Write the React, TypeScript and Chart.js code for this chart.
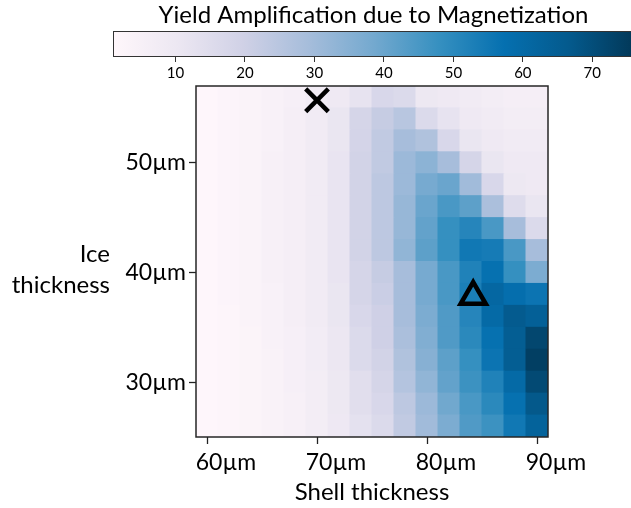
import React, { useEffect, useRef } from "react";
import { Chart, registerables } from "chart.js";

Chart.register(...registerables);

// Shell thickness (µm) – heatmap columns
const shellThickness = [60, 62, 64, 66, 68, 70, 72, 74, 76, 78, 80, 82, 84, 86, 88, 90];
// Ice thickness (µm) – heatmap rows, ascending
const iceThickness = [26, 28, 30, 32, 34, 36, 38, 40, 42, 44, 46, 48, 50, 52, 54, 56];
// Yield amplification; one row per ice thickness (26µm first), one value per shell thickness
const amplification = [
  [1.5, 2, 3, 4, 5, 7, 9.5, 13, 16, 23, 30, 37, 44, 47, 55, 63],
  [1.5, 2, 3, 4, 5, 7, 10, 14, 17, 24, 31, 39, 45, 50, 57, 67],
  [1.5, 2, 3, 4, 5.5, 7, 10, 14, 18, 26, 33, 41, 47, 52, 60, 71],
  [1.5, 2, 3, 4, 5.5, 7.5, 10.5, 16, 19, 27, 35, 42, 48, 56, 65, 74],
  [1.5, 2, 3, 4.5, 5.5, 7.5, 10.5, 16, 20, 28, 36, 44, 50, 57, 65, 72],
  [1.5, 2, 3.5, 4.5, 6, 8, 11, 17, 20, 29, 37, 44, 51, 60, 66, 64],
  [1.5, 2.5, 3.5, 4.5, 6, 8, 11, 18, 21, 29, 38, 45, 53, 61, 58, 56],
  [1.5, 2.5, 3.5, 5, 6, 8, 11.5, 18, 22, 29, 38, 45, 52, 57, 48, 37],
  [1.5, 2.5, 3.5, 5, 6, 8, 11.5, 19, 24, 33, 42, 48, 55, 54, 45, 29],
  [1.5, 2.5, 3.5, 5, 6, 8, 11.5, 19, 24, 32, 41, 48, 51, 45, 29, 16],
  [1.5, 2.5, 3.5, 5, 6, 8, 11.5, 19, 24, 32, 40, 45, 42, 28, 15, 11],
  [1.5, 2.5, 3.5, 5, 6, 8, 11.5, 19, 24, 31, 38, 40, 30, 17, 10, 9],
  [1.5, 2.5, 3.5, 5, 6, 8, 11.5, 19, 23, 31, 34, 29, 18, 11, 9, 9],
  [1.5, 2.5, 3.5, 4.5, 6, 8, 11, 18.5, 23, 29, 27, 17, 11, 9, 8, 8],
  [1.5, 2.5, 3.5, 4.5, 6, 8, 11, 18, 22, 25, 16, 12, 9, 8, 7, 7],
  [1.5, 2.5, 3.5, 4.5, 5.5, 7.5, 9, 12, 17, 16, 10, 9, 8, 7, 6, 6],
];
const crossMarker = [{ x: 70, y: 55.7 }];
const triangleMarker = [{ x: 84.2, y: 37.8 }];
const xTickValues = [60, 70, 80, 90];
const yTickValues = [30, 40, 50];
const colorbarTickValues = [10, 20, 30, 40, 50, 60, 70];
const colorMin = 1;
const colorMax = 76;
const PUBU = ["#fff7fb", "#ece7f2", "#d0d1e6", "#a6bddb", "#74a9cf", "#3690c0", "#0570b0", "#045a8d", "#023858"];

const FONT = "Lato";

function hexToRgb(h: string) {
  const n = parseInt(h.slice(1), 16);
  return [(n >> 16) & 255, (n >> 8) & 255, n & 255];
}

function colorFor(v: number) {
  let t = (v - colorMin) / (colorMax - colorMin);
  t = Math.max(0, Math.min(1, t));
  const pos = t * (PUBU.length - 1);
  const i = Math.min(PUBU.length - 2, Math.floor(pos));
  const f = pos - i;
  const a = hexToRgb(PUBU[i]);
  const b = hexToRgb(PUBU[i + 1]);
  const c = a.map((x, k) => Math.round(x + (b[k] - x) * f));
  return `rgb(${c[0]},${c[1]},${c[2]})`;
}

const framePlugin = {
  id: "frame",
  afterDraw(chart: any) {
    const { ctx, chartArea: a } = chart;
    ctx.save();
    ctx.strokeStyle = "#262626";
    ctx.lineWidth = 1.5;
    ctx.strokeRect(a.left, a.top, a.right - a.left, a.bottom - a.top);
    ctx.restore();
  },
};

const iceLabelPlugin = {
  id: "iceLabel",
  afterDraw(chart: any) {
    const { ctx, chartArea: a } = chart;
    const ys = chart.scales.y;
    const mid = ys.getPixelForValue(40);
    ctx.save();
    ctx.fillStyle = "#000";
    ctx.font = `24px ${FONT}`;
    ctx.textAlign = "right";
    ctx.textBaseline = "alphabetic";
    ctx.fillText("Ice", a.left - 86, mid - 10);
    ctx.fillText("thickness", a.left - 86, mid + 21);
    ctx.restore();
  },
};

const gradientPlugin = {
  id: "gradientBar",
  afterDraw(chart: any) {
    const { ctx, chartArea: a } = chart;
    const xs = chart.scales.x;
    const x0 = xs.getPixelForValue(colorMin);
    const x1 = xs.getPixelForValue(colorMax);
    const g = ctx.createLinearGradient(x0, 0, x1, 0);
    PUBU.forEach((c, i) => g.addColorStop(i / (PUBU.length - 1), c));
    ctx.save();
    ctx.fillStyle = g;
    ctx.fillRect(a.left, a.top, a.right - a.left, a.bottom - a.top);
    ctx.strokeStyle = "#333";
    ctx.lineWidth = 1;
    ctx.strokeRect(a.left + 0.5, a.top + 0.5, a.right - a.left - 1, a.bottom - a.top - 1);
    ctx.restore();
  },
};

export default function App() {
  const mainRef = useRef<HTMLCanvasElement>(null);
  const barRef = useRef<HTMLCanvasElement>(null);

  useEffect(() => {
    document.body.style.margin = "0";

    const cellDatasets: any[] = iceThickness.map((ice, r) => ({
      type: "bar",
      data: shellThickness.map((s) => ({ x: s, y: [ice - 1, ice + 1] })),
      backgroundColor: amplification[r].map(colorFor),
      borderWidth: 0,
      barPercentage: 1,
      categoryPercentage: 1,
      grouped: false,
      inflateAmount: 0.5,
      order: 2,
    }));

    const markerDatasets: any[] = [
      {
        type: "line",
        data: crossMarker,
        showLine: false,
        pointStyle: "crossRot",
        pointRadius: 16,
        pointBorderWidth: 4.5,
        pointBorderColor: "#000",
        pointBackgroundColor: "transparent",
        order: 0,
      },
      {
        type: "line",
        data: triangleMarker,
        showLine: false,
        pointStyle: "triangle",
        pointRadius: 14.5,
        pointBorderWidth: 4.5,
        pointBorderColor: "#000",
        pointBackgroundColor: "transparent",
        order: 0,
      },
    ];

    const main = new Chart(mainRef.current as HTMLCanvasElement, {
      type: "bar",
      data: { datasets: [...cellDatasets, ...markerDatasets] },
      options: {
        responsive: false,
        animation: false,
        devicePixelRatio: 1,
        layout: { padding: { left: 0, top: 86, right: 83, bottom: 0 } },
        plugins: { legend: { display: false }, tooltip: { enabled: false }, title: { display: false } },
        scales: {
          x: {
            type: "linear",
            min: 59,
            max: 91,
            offset: false,
            afterBuildTicks: (s: any) => {
              s.ticks = xTickValues.map((v) => ({ value: v }));
            },
            afterFit: (s: any) => {
              s.height = 71;
            },
            ticks: {
              callback: (v: any) => `${v}µm`,
              font: { family: FONT, size: 23 },
              color: "#000",
              padding: 5,
              labelOffset: 19,
              maxRotation: 0,
              autoSkip: false,
            },
            grid: { drawOnChartArea: false, offset: false, tickLength: 7, tickColor: "#222", tickWidth: 1.3 },
            border: { display: false },
            title: {
              display: true,
              text: "Shell thickness",
              font: { family: FONT, size: 24 },
              color: "#000",
              padding: { top: 0, bottom: 1 },
            },
          },
          y: {
            type: "linear",
            min: 25,
            max: 57,
            afterBuildTicks: (s: any) => {
              s.ticks = yTickValues.map((v) => ({ value: v }));
            },
            afterFit: (s: any) => {
              s.width = 196;
            },
            ticks: {
              callback: (v: any) => `${v}µm`,
              font: { family: FONT, size: 23 },
              color: "#000",
              padding: 3,
              autoSkip: false,
            },
            grid: { drawOnChartArea: false, tickLength: 7, tickColor: "#222", tickWidth: 1.3 },
            border: { display: false },
          },
        },
      } as any,
      plugins: [framePlugin, iceLabelPlugin],
    });

    const bar = new Chart(barRef.current as HTMLCanvasElement, {
      type: "bar",
      data: { datasets: [{ data: [] }] },
      options: {
        responsive: false,
        animation: false,
        devicePixelRatio: 1,
        layout: { padding: { left: 113, right: 26, top: 0, bottom: 0 } },
        plugins: {
          legend: { display: false },
          tooltip: { enabled: false },
          title: {
            display: true,
            text: "Yield Amplification due to Magnetization",
            font: { family: FONT, size: 24, weight: "normal" },
            color: "#000",
            padding: { top: 1, bottom: 1.2 },
          },
        },
        scales: {
          x: {
            type: "linear",
            min: colorMin,
            max: colorMax,
            offset: false,
            afterBuildTicks: (s: any) => {
              s.ticks = colorbarTickValues.map((v) => ({ value: v }));
            },
            afterFit: (s: any) => {
              s.height = 29;
            },
            ticks: { font: { family: FONT, size: 15 }, color: "#000", padding: 2, maxRotation: 0, autoSkip: false },
            grid: { drawOnChartArea: false, offset: false, tickLength: 5, tickColor: "#333" },
            border: { display: false },
          },
          y: { display: false, min: 0, max: 1 },
        },
      } as any,
      plugins: [gradientPlugin],
    });

    return () => {
      main.destroy();
      bar.destroy();
    };
  }, []);

  return (
    <div style={{ position: "relative", width: 631, height: 508, overflow: "hidden", background: "#fff" }}>
      <canvas ref={mainRef} width={631} height={508} style={{ position: "absolute", left: 0, top: 0 }} />
      <canvas ref={barRef} width={660} height={86} style={{ position: "absolute", left: 0, top: 0 }} />
    </div>
  );
}
